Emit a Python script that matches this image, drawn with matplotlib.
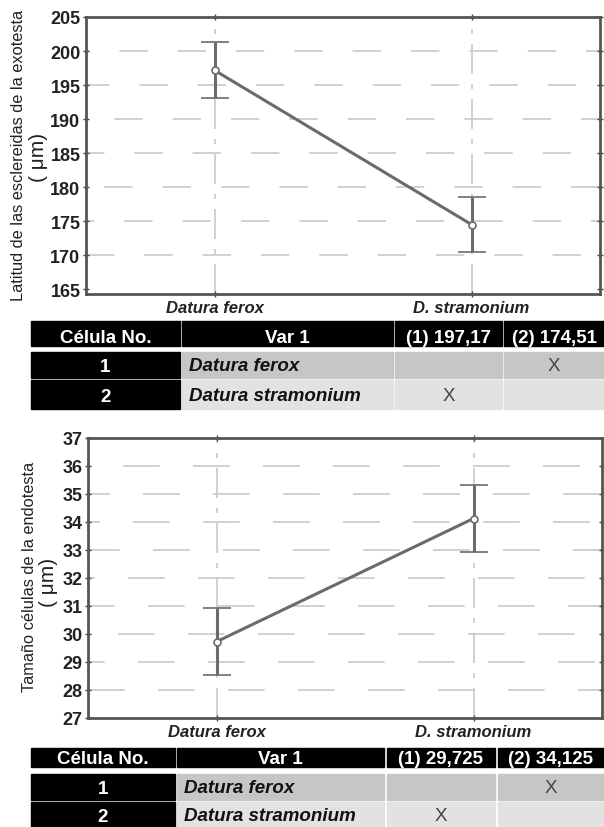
import matplotlib
matplotlib.use('Agg')
import matplotlib.pyplot as plt
from matplotlib.patches import Rectangle

plt.rcParams['font.family'] = ['Liberation Sans', 'DejaVu Sans']

categories = ['Datura ferox', 'D. stramonium']

exo_means = [197.17, 174.51]
exo_err = [4.1, 4.1]
exo_ticks = [165, 170, 175, 180, 185, 190, 195, 200, 205]
exo_label = 'Latitud de las esclereidas de la exotesta'

endo_means = [29.725, 34.125]
endo_err = [1.2, 1.2]
endo_ticks = list(range(27, 38))
endo_label = 'Tamaño células de la endotesta'

exo_header = ['Célula No.', 'Var 1', '(1) 197,17', '(2) 174,51']
endo_header = ['Célula No.', 'Var 1', '(1) 29,725', '(2) 34,125']
row_ids = ['1', '2']
row_names = ['Datura ferox', 'Datura stramonium']
marks = [['', 'X'], ['X', '']]

W, H = 604, 828
fig = plt.figure(figsize=(W / 100, H / 100), dpi=100)

LINE = '#6b6b6b'
GRID = '#c8c8c8'


def px_axes(x0, y0, x1, y1):
    return fig.add_axes([x0 / W, 1 - y1 / H, (x1 - x0) / W, (y1 - y0) / H])


def draw_plot(ax, means, err, ticks, ylim, dash):
    xs = list(range(len(means)))
    ax.set_xlim(-0.5, 1.5)
    ax.set_ylim(*ylim)
    offsets = [0, 12, 24, 6, 18, 3, 15, 9, 21, 0]
    for i, t in enumerate(ticks[1:-1]):
        ax.axhline(t, color=GRID, lw=1.2, ls=(offsets[i % 10], dash), zorder=0)
    for x in xs:
        ax.axvline(x, color=GRID, lw=1.2, ls=(0, (18, 6, 3, 6)), zorder=0)
    ax.errorbar(xs, means, yerr=err, color=LINE, lw=2.2, capsize=10,
                capthick=2.2, marker='o', ms=5, mfc='white', mec=LINE,
                mew=1.2, zorder=3)
    ax.set_xticks(xs)
    ax.set_xticklabels(categories, fontsize=12, fontweight='bold',
                       style='italic', color='#222222')
    ax.set_yticks(ticks)
    ax.set_yticklabels([str(t) for t in ticks], fontsize=13,
                       fontweight='bold', color='#222222')
    ax.tick_params(axis='both', direction='inout', length=4, width=1,
                   color='#444444', right=True, top=True, pad=2)
    for s in ax.spines.values():
        s.set_color('#555555')
        s.set_linewidth(2)


ax1 = px_axes(86, 18, 600, 295)
draw_plot(ax1, exo_means, exo_err, exo_ticks, (164.3, 205), (17, 18))
ax2 = px_axes(88, 439, 602, 719)
draw_plot(ax2, endo_means, endo_err, endo_ticks, (27, 37), (22, 20))

# y labels
fig.text(19 / W, 1 - 155 / H, exo_label, rotation=90, ha='center',
         va='center', fontsize=11.8, color='#222222')
fig.text(38 / W, 1 - 157 / H, '( μm)', rotation=90, ha='center',
         va='center', fontsize=15, color='#222222')
fig.text(30 / W, 1 - 577 / H, endo_label, rotation=90, ha='center',
         va='center', fontsize=11.8, color='#222222')
fig.text(48 / W, 1 - 582 / H, '( μm)', rotation=90, ha='center',
         va='center', fontsize=15, color='#222222')

# tables
tax = fig.add_axes([0, 0, 1, 1])
tax.set_xlim(0, W)
tax.set_ylim(H, 0)
tax.axis('off')


def draw_table(header, cols, rows, dy):
    hy0, hy1 = rows[0]
    for i, txt in enumerate(header):
        x0, x1 = cols[i]
        tax.add_patch(Rectangle((x0, hy0), x1 - x0, hy1 - hy0, color='black'))
        tax.text((x0 + x1) / 2, (hy0 + hy1) / 2 + dy, txt, color='white',
                 fontsize=13.5, fontweight='bold', ha='center', va='center')
    fills = ['#c6c6c6', '#e2e2e2']
    for r in range(len(row_ids)):
        y0, y1 = rows[r + 1]
        x0, x1 = cols[0]
        tax.add_patch(Rectangle((x0, y0), x1 - x0, y1 - y0, color='black'))
        tax.text((x0 + x1) / 2, (y0 + y1) / 2 + 2, row_ids[r], color='white',
                 fontsize=13.5, fontweight='bold', ha='center', va='center')
        for c in range(1, 4):
            cx0, cx1 = cols[c]
            tax.add_patch(Rectangle((cx0, y0), cx1 - cx0, y1 - y0,
                                    color=fills[r]))
        x0, x1 = cols[1]
        tax.text(x0 + 7, (y0 + y1) / 2 + 1, row_names[r], color='#111111',
                 fontsize=13.5, fontweight='bold', style='italic',
                 ha='left', va='center')
        for c in range(2):
            cx0, cx1 = cols[c + 2]
            tax.text((cx0 + cx1) / 2, (y0 + y1) / 2 + 1, marks[r][c],
                     color='#444444', fontsize=13.5, ha='center', va='center')


draw_table(exo_header,
           [(31, 180), (182, 393), (395, 502), (504, 604)],
           [(322, 347), (353, 379), (381, 410)], 4)
draw_table(endo_header,
           [(31, 175), (177, 384), (387, 495), (498, 604)],
           [(749, 768), (775, 801), (803, 829)], 1)

fig.savefig('out.png', dpi=100)
